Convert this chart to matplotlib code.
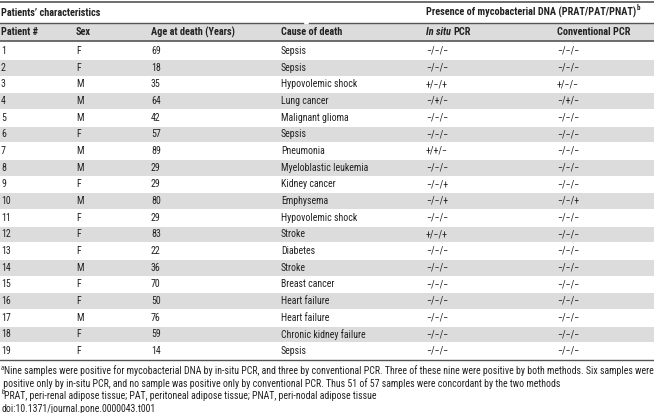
import matplotlib
matplotlib.use('Agg')
import matplotlib.pyplot as plt
from matplotlib import font_manager as fm

patients = list(range(1, 20))
sexes = ['F', 'F', 'M', 'M', 'M', 'F', 'M', 'M', 'F', 'M',
         'F', 'F', 'F', 'M', 'F', 'F', 'M', 'F', 'F']
ages = [69, 18, 35, 64, 42, 57, 89, 29, 29, 80,
        29, 83, 22, 36, 70, 50, 76, 59, 14]
causes = ['Sepsis', 'Sepsis', 'Hypovolemic shock', 'Lung cancer', 'Malignant glioma',
          'Sepsis', 'Pneumonia', 'Myeloblastic leukemia', 'Kidney cancer', 'Emphysema',
          'Hypovolemic shock', 'Stroke', 'Diabetes', 'Stroke', 'Breast cancer',
          'Heart failure', 'Heart failure', 'Chronic kidney failure', 'Sepsis']
M = '\u2212'
in_situ = ['-/-/-', '-/-/-', '+/-/+', '-/+/-', '-/-/-', '-/-/-', '+/+/-', '-/-/-',
           '-/-/+', '-/-/+', '-/-/-', '+/-/+', '-/-/-', '-/-/-', '-/-/-', '-/-/-',
           '-/-/-', '-/-/-', '-/-/-']
conventional = ['-/-/-', '-/-/-', '+/-/-', '-/+/-', '-/-/-', '-/-/-', '-/-/-', '-/-/-',
                '-/-/-', '-/-/+', '-/-/-', '-/-/-', '-/-/-', '-/-/-', '-/-/-', '-/-/-',
                '-/-/-', '-/-/-', '-/-/-']
col_heads = ['Patient #', 'Sex', 'Age at death (Years)', 'Cause of death']
col_x = [1, 76, 151, 281, 426, 557]
notes = ['Nine samples were positive for mycobacterial DNA by in-situ PCR, and three by conventional PCR. '
         'Three of these nine were positive by both methods. Six samples were',
         ' positive only by in-situ PCR, and no sample was positive only by conventional PCR. '
         'Thus 51 of 57 samples were concordant by the two methods',
         'PRAT, peri-renal adipose tissue; PAT, peritoneal adipose tissue; PNAT, peri-nodal adipose tissue',
         'doi:10.1371/journal.pone.0000043.t001']


# the source uses a narrow sans face; pick a condensed one if there is one
def pick_font():
    fl = fm.fontManager.ttflist
    names = {f.name for f in fl}
    if 'Liberation Sans Narrow' in names:
        return 'Liberation Sans Narrow', 'normal'
    for fam, st in [('Noto Sans', 'condensed'), ('Roboto Condensed', None),
                    ('Noto Sans', 'semi-condensed'), ('Roboto', 'condensed'),
                    ('DejaVu Sans', 'condensed'), ('DejaVu Sans', 'semi-condensed')]:
        if st is None:
            if fam in names:
                return fam, 'normal'
        elif any(f.name == fam and f.stretch == st for f in fl):
            return fam, st
    return 'Open Sans', 'normal'


fam, stretch = pick_font()
plt.rcParams['font.family'] = [fam, 'DejaVu Sans']
plt.rcParams['font.stretch'] = stretch

gray = '#dcdcdc'
line_c = '#555555'
txt_c = '#222222'

fig = plt.figure(figsize=(6.54, 4.13), dpi=100)
ax = fig.add_axes([0, 0, 1, 1])
ax.set_xlim(0, 654)
ax.set_ylim(413, 0)
ax.axis('off')
rend = fig.canvas.get_renderer()


def width_px(s, size, **kw):
    t = ax.text(0, 0, s, fontsize=size, **kw)
    w = t.get_window_extent(renderer=rend).width
    t.remove()
    return w


def fit(s, target, **kw):
    return min(8.2, 10 * target / width_px(s, 10, **kw))


fs = fit('Myeloblastic leukemia', 87)
fs_b = fit('Age at death (Years)', 84, fontweight='bold')
fs_n = fit('Nine samples were positive for mycobacterial DNA', 196)
sup = 5


def right_edge(t):
    bb = t.get_window_extent(renderer=rend)
    return ax.transData.inverted().transform((bb.x1, bb.y1))[0]


# group header
ax.plot([0, 654], [1.5, 1.5], color=line_c, lw=1.2)
ax.text(col_x[0], 13, 'Patients\u2019 characteristics', fontsize=fs_b, fontweight='bold',
        va='center', color=txt_c)
t = ax.text(col_x[4], 12, 'Presence of mycobacterial DNA (PRAT/PAT/PNAT)', fontsize=fs_b,
            fontweight='bold', va='center', color=txt_c)
ax.text(right_edge(t) + 0.5, 8.5, 'b', fontsize=sup, fontweight='bold', va='center', color=txt_c)
ax.plot([0, 303], [23, 23], color=line_c, lw=1.0)
ax.plot([309, 654], [23, 23], color=line_c, lw=1.0)

# column header
ax.fill_between([0, 654], 23.5, 40.5, color=gray, lw=0)
for x, h in zip(col_x, col_heads):
    ax.text(x, 32, h, fontsize=fs_b, fontweight='bold', va='center', color=txt_c)
t = ax.text(col_x[4], 32, 'In situ', fontsize=fs_b, fontweight='bold', style='italic',
            va='center', color=txt_c)
ax.text(right_edge(t) + 2.5, 32, 'PCR', fontsize=fs_b, fontweight='bold', va='center', color=txt_c)
ax.text(col_x[5], 32, 'Conventional PCR', fontsize=fs_b, fontweight='bold', va='center',
        color=txt_c)
ax.plot([0, 654], [41, 41], color=line_c, lw=1.2)

# body
step = 300 / 18
for i, p in enumerate(patients):
    y = 51 + i * step
    if i % 2 == 1:
        ax.fill_between([0, 654], y - step / 2 + 0.5, y + step / 2 - 0.5, color=gray, lw=0)
    vals = [str(p), sexes[i], str(ages[i]), causes[i],
            in_situ[i].replace('-', M), conventional[i].replace('-', M)]
    for x, v in zip(col_x, vals):
        ax.text(x, y, v, fontsize=fs, va='center', color=txt_c)
ax.plot([0, 654], [360, 360], color=line_c, lw=1.0)

# footnotes
note_y = [371, 383.5, 396, 408.5]
for j, (s, y) in enumerate(zip(notes, note_y)):
    x0 = 1
    if j == 0:
        ax.text(x0, y - 3, 'a', fontsize=sup, style='italic', va='center', color=txt_c)
        x0 = 4
    if j == 2:
        ax.text(x0, y - 3, 'b', fontsize=sup, va='center', color=txt_c)
        x0 = 4
    ax.text(x0, y, s, fontsize=fs_n, va='center', color=txt_c)

fig.savefig('out.png', dpi=100)
